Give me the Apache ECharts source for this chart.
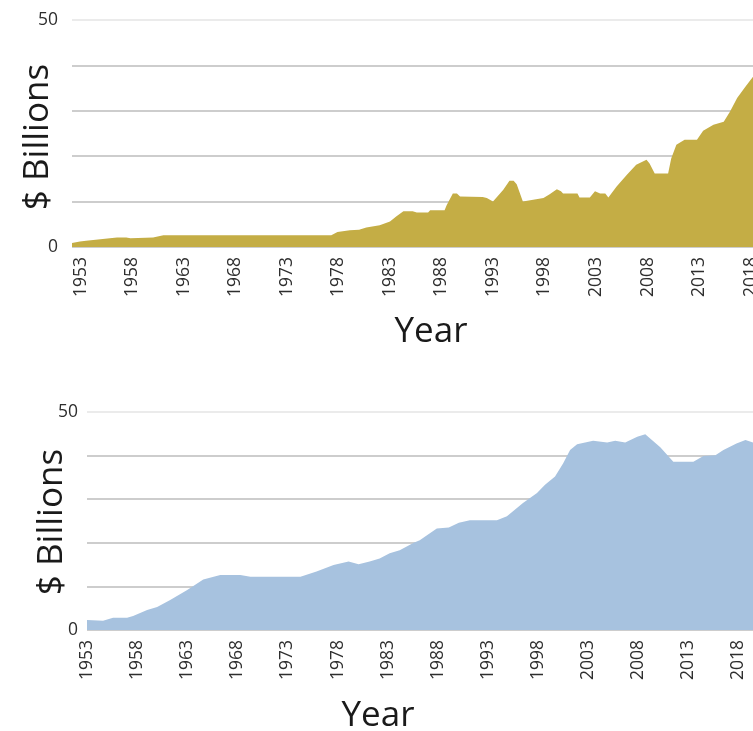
<!DOCTYPE html>
<html>
<head>
<meta charset="utf-8">
<script src="https://cdn.jsdelivr.net/npm/echarts@6/dist/echarts.min.js"></script>
<style>
html,body{margin:0;padding:0;background:#fff;}
#chart{width:753px;height:731px;}
</style>
</head>
<body>
<div id="chart"></div>
<script>
// Top chart (gold)
const goldYears = [1952.13,1952.9,1953.5,1955.8,1956.5,1957.4,1957.8,1960.0,1961.0,1977.3,1977.9,1979.1,1980.0,1980.7,1982.0,1983.0,1983.6,1984.3,1985.2,1985.6,1986.7,1986.9,1988.3,1988.5,1989.1,1989.5,1989.8,1992.0,1992.4,1993.0,1994.0,1994.6,1995.0,1995.3,1995.9,1996.9,1997.9,1998.5,1999.2,1999.6,1999.8,2001.2,2001.4,2002.4,2002.9,2003.4,2003.9,2004.2,2005.0,2006.0,2006.9,2007.9,2008.2,2008.7,2010.0,2010.3,2010.8,2011.6,2012.8,2013.4,2014.4,2015.4,2016.0,2016.7,2017.5,2018.24];
const goldValues = [0.9,1.2,1.4,1.9,2.1,2.1,1.9,2.1,2.6,2.6,3.3,3.7,3.8,4.3,4.8,5.6,6.7,7.9,7.9,7.6,7.6,8.1,8.1,9.2,11.8,11.8,11.1,11.0,10.8,10.0,12.6,14.6,14.6,13.8,10.0,10.4,10.8,11.6,12.7,12.3,11.8,11.8,10.9,10.9,12.3,11.8,11.8,10.9,13.3,15.9,18.1,19.2,18.4,16.2,16.2,19.5,22.5,23.6,23.6,25.6,26.9,27.6,29.8,32.8,35.3,37.5];

// Bottom chart (blue)
const blueYears = [1953.0,1954.6,1955.6,1957.0,1957.6,1959.0,1960.0,1961.3,1963.0,1964.6,1966.3,1968.3,1969.3,1974.3,1975.9,1977.6,1979.1,1980.1,1981.2,1982.2,1983.2,1984.2,1985.6,1986.2,1987.9,1989.1,1990.1,1991.2,1993.9,1994.9,1996.5,1997.9,1998.7,1999.7,2000.5,2001.2,2001.9,2003.5,2004.9,2005.7,2006.7,2007.9,2008.7,2010.2,2011.5,2013.5,2014.5,2015.7,2016.5,2017.8,2018.7,2019.45];
const blueValues = [2.3,2.1,2.8,2.8,3.2,4.6,5.3,6.9,9.2,11.6,12.6,12.6,12.2,12.2,13.4,14.9,15.7,15.1,15.7,16.4,17.6,18.3,20.0,20.6,23.3,23.5,24.6,25.2,25.2,26.1,29.1,31.4,33.3,35.2,38.2,41.3,42.6,43.4,43.0,43.4,43.0,44.3,44.9,41.9,38.6,38.6,39.9,40.1,41.3,42.8,43.6,43.0];

const yearTicks = [1953,1958,1963,1968,1973,1978,1983,1988,1993,1998,2003,2008,2013,2018];
const yTicks = [0,50];
const yTitle = '$ Billions';
const xTitle = 'Year';

const FONT = "'Open Sans', 'Noto Sans', sans-serif";
const gridColors = ['#bdbdbd','#bdbdbd','#bdbdbd','#bdbdbd','#bdbdbd','#e4e4e4'];

function pairs(xs, ys){ return xs.map((x,i)=>[x, ys[i]]); }

function xAxisCfg(idx, min, max){
  return {
    type:'value', gridIndex: idx, min:min, max:max,
    axisLine:{show:false}, axisTick:{show:false}, splitLine:{show:false},
    axisLabel:{
      customValues: yearTicks, rotate:90, margin:10, hideOverlap:false,
      fontFamily:FONT, fontSize:17.5, color:'#2e2e2e',
      formatter: v => String(Math.round(v))
    }
  };
}
function yAxisCfg(idx, margin){
  return {
    type:'value', gridIndex: idx, min:0, max:50, interval:10,
    axisLine:{show:false}, axisTick:{show:false},
    splitLine:{show:true, lineStyle:{color:gridColors, width:1.5}},
    axisLabel:{
      margin:margin, fontFamily:FONT, fontSize:17.5, color:'#2e2e2e',
      formatter: v => (yTicks.indexOf(v) >= 0 ? String(v) : '')
    }
  };
}

const chart = echarts.init(document.getElementById('chart'), null, {renderer:'canvas'});
chart.setOption({
  animation:false,
  backgroundColor:'#ffffff',
  grid:[
    {left:72, right:0, top:20, height:227, outerBoundsMode:'none', containLabel:false},
    {left:87, right:0, top:412, height:218, outerBoundsMode:'none', containLabel:false}
  ],
  xAxis:[ xAxisCfg(0, 1952.13, 2018.24), xAxisCfg(1, 1953, 2019.45) ],
  yAxis:[ yAxisCfg(0, 14), yAxisCfg(1, 9) ],
  series:[
    {type:'line', xAxisIndex:0, yAxisIndex:0, data:pairs(goldYears, goldValues),
     showSymbol:false, silent:true, lineStyle:{width:0}, areaStyle:{color:'#c4ad45', opacity:1}},
    {type:'line', xAxisIndex:1, yAxisIndex:1, data:pairs(blueYears, blueValues),
     showSymbol:false, silent:true, lineStyle:{width:0}, areaStyle:{color:'#a7c2df', opacity:1}}
  ],
  graphic:[
    {type:'text', x:38, y:137, rotation:Math.PI/2,
     style:{text:yTitle, font:"35px "+FONT, fill:'#1a1a1a', textAlign:'center', textVerticalAlign:'middle'}},
    {type:'text', x:52, y:522, rotation:Math.PI/2,
     style:{text:yTitle, font:"35px "+FONT, fill:'#1a1a1a', textAlign:'center', textVerticalAlign:'middle'}},
    {type:'text', x:431, y:332,
     style:{text:xTitle, font:"35px "+FONT, fill:'#1a1a1a', textAlign:'center', textVerticalAlign:'middle'}},
    {type:'text', x:378, y:716,
     style:{text:xTitle, font:"35px "+FONT, fill:'#1a1a1a', textAlign:'center', textVerticalAlign:'middle'}}
  ]
});
</script>
</body>
</html>
